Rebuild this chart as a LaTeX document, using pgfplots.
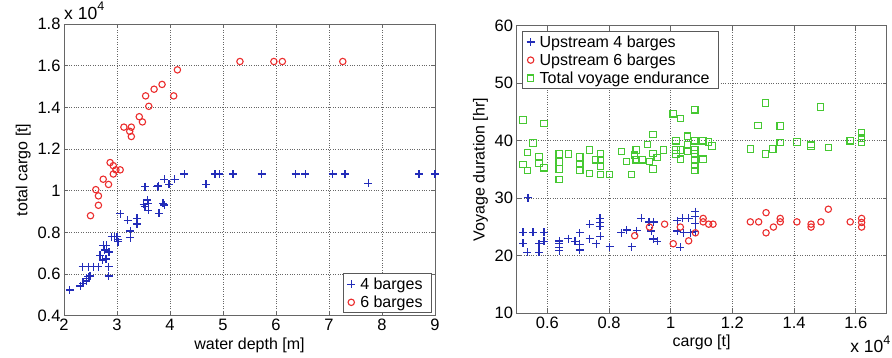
\documentclass[border=0pt]{standalone}
\usepackage{fontspec}
\setmainfont{Liberation Sans}
\usepackage{pgfplots}
\pgfplotsset{compat=1.18}
\definecolor{mblue}{RGB}{35,45,185}
\definecolor{mred}{RGB}{235,45,45}
\definecolor{mgreen}{RGB}{70,200,50}
\newcommand{\xtenfour}{x 10\raisebox{0.5em}{\fontsize{12.5}{13}\selectfont 4}}
\pgfplotsset{
  mystyle/.style={
    scale only axis,
    axis line style={draw=black!60, line width=0.9pt},
    grid=major,
    major grid style={dotted, draw=black!60, line width=0.8pt},
    tick align=inside,
    tick pos=both,
    major tick length=4pt,
    tick style={draw=black!60, line width=0.8pt},
    tick label style={font=\fontsize{16.5}{18}\selectfont},
    label style={font=\fontsize{16}{18}\selectfont},
    /pgf/number format/assume math mode=true,
    legend style={font=\fontsize{16}{18}\selectfont, draw=black!65, line width=1pt, row sep=1pt,
      nodes={inner xsep=5pt}, inner xsep=4pt},
    legend cell align=left,
  },
  pblue/.style={only marks, mark=+, mark size=4pt, color=mblue, line width=1.3pt},
  pred/.style={only marks, mark=o, mark size=3.2pt, color=mred, line width=1.1pt},
  pgreen/.style={only marks, mark=square, mark size=3.2pt, color=mgreen, line width=1.1pt},
}
\begin{document}
\begin{tikzpicture}
\path[use as bounding box] (0pt,0pt) rectangle (892pt,357pt);
\begin{axis}[mystyle, name=L,
  at={(64pt,41.3pt)}, anchor=south west,
  width=371pt, height=291.7pt,
  xmin=2, xmax=9, ymin=0.4, ymax=1.8,
  xtick={2,3,...,9},
  ytick={0.4,0.6,0.8,1,1.2,1.4,1.6,1.8},
  yticklabel style={/pgf/number format/fixed},
  xlabel={water depth [m]},
  ylabel={total cargo [t]},
  legend style={at={(rel axis cs:0.992,0.008)}, anchor=south east},
]
\addplot[pblue] coordinates {
(2.11,0.524)(2.31,0.543)(2.36,0.556)(2.42,0.567)(2.42,0.580)(2.46,0.587)(2.49,0.590)
(2.35,0.636)(2.46,0.636)(2.55,0.636)(2.65,0.636)(2.84,0.636)(2.84,0.590)
(2.68,0.689)(2.73,0.668)(2.79,0.672)(2.77,0.716)(2.85,0.706)(2.80,0.737)(2.74,0.737)
(2.90,0.780)(2.95,0.780)(3.01,0.767)(3.02,0.756)(3.00,0.780)
(3.25,0.775)(3.25,0.807)(3.06,0.889)(3.20,0.857)(3.38,0.868)(3.38,0.840)
(3.50,0.935)(3.53,0.924)(3.57,0.956)(3.59,0.940)(3.59,0.905)(3.87,0.940)(3.89,0.932)(3.79,0.892)
(3.53,1.020)(3.76,1.020)(3.78,1.023)(3.98,1.030)(3.89,1.055)(4.09,1.055)(4.27,1.080)
(4.68,1.031)(4.85,1.080)(4.93,1.080)(5.19,1.080)(5.73,1.080)(6.37,1.080)(6.55,1.080)
(7.07,1.080)(7.30,1.080)(7.74,1.036)(8.70,1.080)(9.00,1.080)
};
\addlegendentry{4 barges}
\addplot[pred] coordinates {
(2.50,0.880)(2.65,0.930)(2.65,0.975)(2.60,1.005)(2.84,1.030)(2.74,1.055)(2.93,1.080)
(2.98,1.100)(3.06,1.100)(2.93,1.120)(2.87,1.135)(3.27,1.260)(3.24,1.285)(3.13,1.305)
(3.27,1.305)(3.48,1.330)(3.42,1.355)(3.60,1.405)(3.54,1.455)(4.07,1.455)(3.70,1.487)
(3.85,1.510)(4.14,1.580)(5.32,1.620)(5.96,1.620)(6.12,1.620)(7.26,1.620)
};
\addlegendentry{6 barges}
\end{axis}
\node[anchor=south west, inner sep=0pt, font=\fontsize{17.5}{19}\selectfont] at ([yshift=4pt]L.north west) {\xtenfour};

\begin{axis}[mystyle, name=R,
  at={(516.6pt,43.7pt)}, anchor=south west,
  width=370pt, height=287.5pt,
  xmin=0.5, xmax=1.7, ymin=10, ymax=60,
  xtick={0.6,0.8,1,1.2,1.4,1.6},
  ytick={10,20,...,60},
  xticklabel style={/pgf/number format/fixed},
  xlabel={cargo [t]},
  ylabel={Voyage duration [hr]},
  legend style={at={(rel axis cs:0.015,0.982)}, anchor=north west},
]
\addplot[pblue] coordinates {
(0.537,30.1)(0.521,24.1)(0.553,24.1)(0.589,24.1)(0.521,22.2)(0.573,22.1)(0.589,22.5)(0.535,20.6)(0.573,20.6)
(0.638,22.6)(0.638,22.1)(0.638,21.5)(0.638,20.9)(0.668,23.0)(0.689,22.5)(0.705,24.0)(0.705,22.0)(0.705,21.0)
(0.737,25.5)(0.737,23.0)(0.759,22.1)(0.770,26.5)(0.770,25.8)(0.770,25.1)(0.772,23.4)(0.802,21.6)
(0.840,24.0)(0.857,24.5)(0.873,21.6)(0.889,24.4)(0.905,26.5)(0.929,25.9)(0.945,25.9)(0.937,24.3)(0.943,22.9)(0.956,22.5)
(1.021,26.1)(1.037,26.5)(1.058,26.5)(1.080,27.7)(1.080,26.8)(1.080,25.6)(1.080,24.2)(1.021,24.3)(1.042,24.0)(1.064,24.0)(1.031,21.5)
};
\addlegendentry{Upstream 4 barges}
\addplot[pred] coordinates {
(0.883,23.5)(0.931,25.0)(0.980,25.5)(1.008,22.1)(1.031,25.0)(1.058,22.6)(1.080,24.0)
(1.105,26.5)(1.105,25.9)(1.123,25.5)(1.137,25.5)
(1.258,25.9)(1.285,25.9)(1.309,27.5)(1.309,24.0)(1.333,25.0)(1.355,26.5)(1.355,25.9)
(1.409,25.9)(1.455,25.5)(1.455,25.0)(1.487,25.9)(1.511,28.1)(1.582,25.9)
(1.619,26.5)(1.619,25.8)(1.619,25.0)
};
\addlegendentry{Upstream 6 barges}
\addplot[pgreen] coordinates {
(0.521,43.6)(0.589,43.0)(0.553,39.6)(0.535,38.0)(0.573,37.2)(0.521,35.9)(0.535,34.8)(0.573,36.1)(0.589,35.3)
(0.638,37.7)(0.668,37.7)(0.638,36.3)(0.638,35.1)(0.638,33.3)(0.705,37.2)(0.705,35.9)(0.705,34.9)
(0.737,38.4)(0.737,34.3)(0.756,36.7)(0.772,37.7)(0.772,36.7)(0.772,35.6)(0.772,34.1)(0.802,34.1)
(0.840,38.1)(0.856,36.4)(0.872,34.1)(0.888,38.4)(0.883,37.5)(0.888,36.7)(0.907,36.7)(0.924,39.4)
(0.942,41.1)(0.931,36.4)(0.942,37.8)(0.942,35.1)(0.956,37.1)(0.977,38.4)
(1.008,44.7)(1.031,43.9)(1.078,45.4)(1.017,40.0)(1.017,38.4)(1.017,37.7)(1.031,38.4)(1.031,36.8)
(1.055,40.8)(1.055,39.4)(1.055,38.1)(1.078,40.0)(1.078,38.4)(1.078,37.7)(1.078,36.7)(1.078,35.7)(1.078,34.8)
(1.105,40.0)(1.105,36.8)(1.123,39.8)(1.134,39.1)
(1.307,46.6)(1.283,42.7)(1.355,42.6)(1.258,38.6)(1.355,39.7)(1.331,38.6)(1.307,37.7)
(1.409,39.8)(1.455,39.4)(1.455,39.1)(1.511,38.8)(1.485,45.9)(1.582,40.0)
(1.619,41.4)(1.619,40.5)(1.619,39.7)
};
\addlegendentry{Total voyage endurance}
\end{axis}
\node[anchor=north east, inner sep=0pt, font=\fontsize{17.5}{19}\selectfont] at ([yshift=-22pt, xshift=4pt]R.south east) {\xtenfour};
\end{tikzpicture}
\end{document}
